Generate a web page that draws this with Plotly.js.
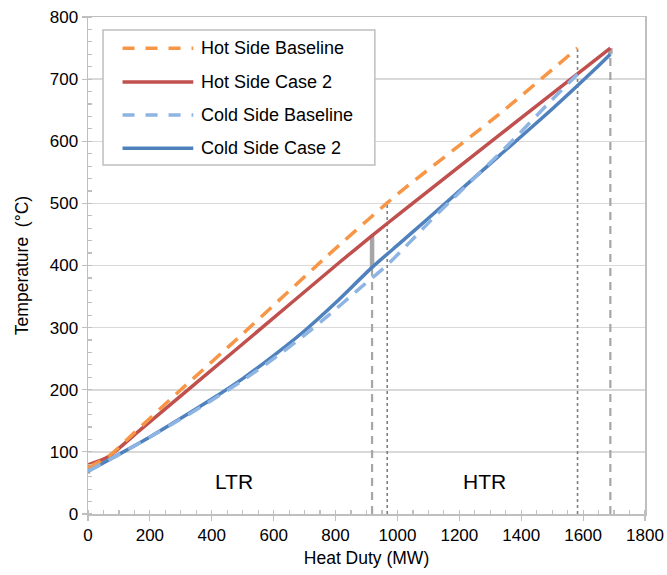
<!DOCTYPE html>
<html>
<head>
<meta charset="utf-8">
<script src="https://cdn.plot.ly/plotly-3.0.1.min.js"></script>
<style>html,body{margin:0;padding:0;background:#fff;}#chart{width:667px;height:575px;}</style>
</head>
<body>
<div id="chart"></div>
<script>
// ---- data ----
const hotBaseQ = [0, 65, 150, 300, 500, 770, 965, 1030, 1332, 1582];
const hotBaseT = [75, 92, 131, 200, 290, 414, 500, 527, 645, 750];

const hotCase2Q = [0, 65, 168, 491, 815, 918, 1008, 1332, 1655, 1688];
const hotCase2T = [79, 92, 135, 270, 406, 448, 484, 611, 737, 750];

const coldBaseQ = [0, 100, 200, 300, 400, 500, 600, 700, 780, 880, 965, 1041, 1105, 1170, 1364, 1488, 1582];
const coldBaseT = [69, 96, 124, 153, 183, 215, 250, 288, 321, 364, 400, 438, 471, 503, 597, 661, 708];

const coldCase2Q = [0, 100, 200, 300, 400, 500, 600, 700, 800, 918, 1008, 1100, 1332, 1500, 1655, 1688];
const coldCase2T = [69, 96, 124, 154, 185, 218, 255, 295, 340, 397, 436, 476, 578, 652, 724, 740];

// pinch / boundary markers
const case2BoundQ = [918, 1688];        // dashed grey verticals (Case 2)
const case2BoundTop = [397, 740];
const baseBoundQ = [967, 1582];         // dotted verticals (Baseline)
const baseBoundTop = [500, 750];
const pinchQ = [0, 918, 1688];          // thick grey segments between hot & cold
const pinchLow = [65, 397, 740];
const pinchHigh = [82, 448, 750];

const regionLabels = ["LTR", "HTR"];
const regionQ = [472, 1280];
const regionT = [52, 52];

const seriesNames = ["Hot Side Baseline", "Hot Side Case 2", "Cold Side Baseline", "Cold Side Case 2"];
const seriesColors = ["#F79646", "#C0504D", "#8DB4E2", "#4F81BD"];
const seriesDash = ["14px,9px", "solid", "14px,9px", "solid"];

// ---- traces ----
const traces = [];
case2BoundQ.forEach((q, i) => traces.push({
  x: [q, q], y: [0, case2BoundTop[i]], mode: "lines", showlegend: false, hoverinfo: "skip",
  line: {color: "#A6A6A6", width: 2.2, dash: "8px,6px"}
}));
baseBoundQ.forEach((q, i) => traces.push({
  x: [q, q], y: [0, baseBoundTop[i]], mode: "lines", showlegend: false, hoverinfo: "skip",
  line: {color: "#7F7F7F", width: 1.6, dash: "dot"}
}));
pinchQ.forEach((q, i) => traces.push({
  x: [q, q], y: [pinchLow[i], pinchHigh[i]], mode: "lines", showlegend: false, hoverinfo: "skip",
  line: {color: "#A6A6A6", width: 4.5}
}));

const data = [
  [hotCase2Q, hotCase2T, 1],
  [coldCase2Q, coldCase2T, 3],
  [hotBaseQ, hotBaseT, 0],
  [coldBaseQ, coldBaseT, 2]
];
data.forEach(([qx, ty, k]) => traces.push({
  x: qx, y: ty, mode: "lines", name: seriesNames[k], showlegend: false,
  line: {color: seriesColors[k], width: 3.5, dash: seriesDash[k], shape: "spline", smoothing: 0.6}
}));

// ---- custom legend (long sample lines like the original) ----
const shapes = [{
  type: "rect", xref: "paper", yref: "paper",
  x0: 0.027, x1: 0.515, y0: 0.702, y1: 0.974,
  line: {color: "#BFBFBF", width: 1.5}, fillcolor: "#FFFFFF", layer: "above"
}];
const annotations = [];
const rowY = [0.937, 0.869, 0.803, 0.736];
seriesNames.forEach((nm, k) => {
  shapes.push({
    type: "line", xref: "paper", yref: "paper",
    x0: 0.062, x1: 0.189, y0: rowY[k], y1: rowY[k], layer: "above",
    line: {color: seriesColors[k], width: 3.5, dash: seriesDash[k] === "solid" ? "solid" : "12px,11px"}
  });
  annotations.push({
    xref: "paper", yref: "paper", x: 0.2, y: rowY[k], xanchor: "left", yanchor: "middle",
    text: nm, showarrow: false, font: {size: 18, color: "#000"}
  });
});
regionLabels.forEach((t, i) => annotations.push({
  x: regionQ[i], y: regionT[i], text: t, showarrow: false, xanchor: "center", yanchor: "middle",
  font: {size: 21, color: "#000"}
}));

const layout = {
  width: 667, height: 575,
  margin: {l: 88, r: 22, t: 17, b: 61},
  paper_bgcolor: "#fff", plot_bgcolor: "#fff",
  font: {family: "Liberation Sans, Arial, sans-serif", size: 17, color: "#000"},
  xaxis: {
    range: [0, 1800], dtick: 200, tick0: 0, showgrid: false, zeroline: false,
    showline: true, linecolor: "#BFBFBF", linewidth: 1.5, mirror: true,
    ticks: "outside", ticklen: 5, tickcolor: "#BFBFBF", tickwidth: 1.2,
    minor: {dtick: 50, ticks: "inside", ticklen: 4, tickcolor: "#BFBFBF", showgrid: false},
    tickfont: {size: 17}, title: {text: "Heat Duty (MW)", font: {size: 17.5}, standoff: 8}
  },
  yaxis: {
    range: [0, 800], dtick: 100, tick0: 0, showgrid: true, gridcolor: "#D9D9D9", gridwidth: 1.5,
    zeroline: false, showline: true, linecolor: "#BFBFBF", linewidth: 1.5, mirror: true,
    ticks: "outside", ticklen: 5, tickcolor: "#BFBFBF", tickwidth: 1.2,
    minor: {dtick: 20, ticks: "inside", ticklen: 4, tickcolor: "#BFBFBF", showgrid: false},
    tickfont: {size: 17}, title: {text: "Temperature\u00a0 (°C)", font: {size: 17.5}, standoff: 16}
  },
  shapes: shapes, annotations: annotations, showlegend: false
};
Plotly.newPlot("chart", traces, layout, {staticPlot: true, displayModeBar: false});
</script>
</body>
</html>
